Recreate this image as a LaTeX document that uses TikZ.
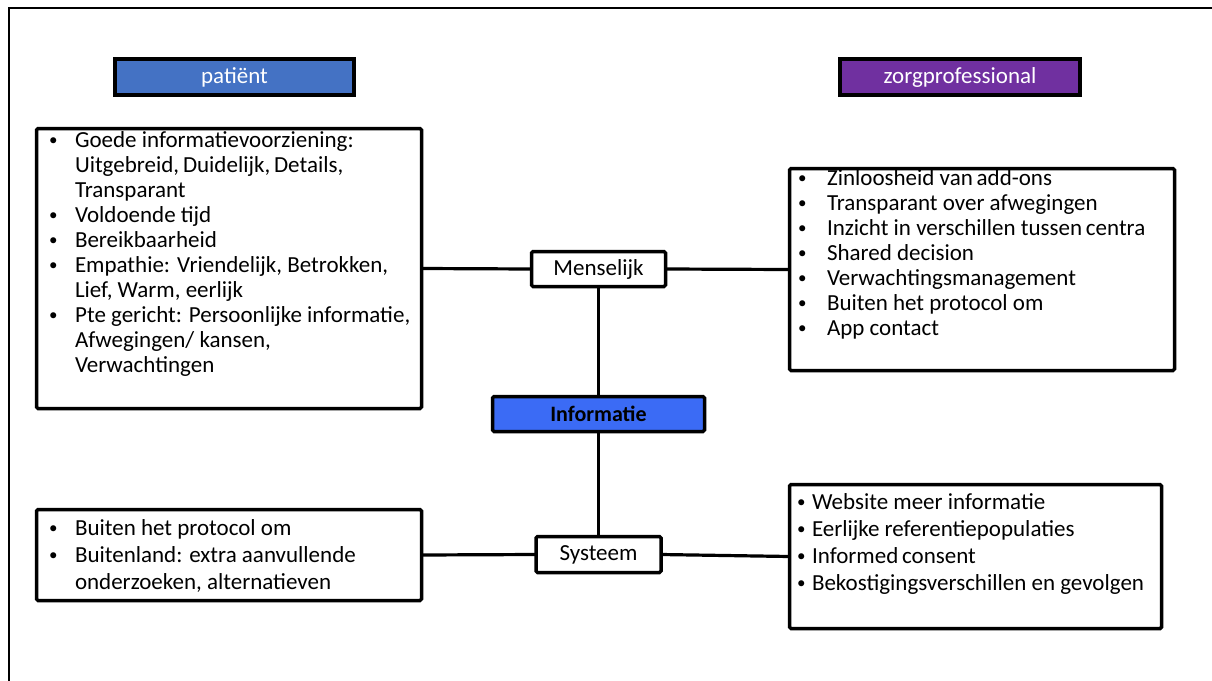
\documentclass[tikz,border=0pt]{standalone}
\usepackage{fontspec}
\setmainfont{Carlito}
\definecolor{patblue}{HTML}{4472C4}
\definecolor{zorgpurple}{HTML}{7030A0}
\definecolor{infoblue}{HTML}{3B6BF5}
% small bullet in a box of given width
\newcommand{\bl}[1]{\makebox[#1][l]{\raisebox{1.6pt}{\fontsize{17}{17}\selectfont\textbullet}}}
\begin{document}
\begin{tikzpicture}[x=1pt,y=-1pt,
  boxline/.style={draw, line width=3.5pt, rounded corners=1.5pt, inner sep=0pt, outer sep=0pt},
  listbox/.style={boxline, fill=white},
  header/.style={draw, line width=4pt, inner sep=0pt, outer sep=0pt, text=white,
    font=\fontsize{23}{27}\selectfont},
  hub/.style={boxline, fill=white, font=\fontsize{23}{27}\selectfont},
  listtext/.style={anchor=base west, inner sep=0pt, outer sep=0pt},
  conn/.style={line width=3.2pt}
]
\useasboundingbox (0,0) rectangle (1212,680);
% outer frame (top and left edges visible)
\draw[line width=2pt] (8.5,1400) -- (8.5,7.5) -- (2400,7.5);

% column headers
\node[header, fill=patblue, minimum width=239pt, minimum height=36pt] (pat) at (234.5,77) {patiënt};
\node[header, fill=zorgpurple, minimum width=240pt, minimum height=36pt] (zorg) at (960,77) {zorgprofessional};

% central hubs
\node[hub, minimum width=134pt, minimum height=35pt] (mens) at (598.5,269) {Menselijk};
\node[hub, fill=infoblue, minimum width=212pt, minimum height=35pt, font=\fontsize{22}{26}\selectfont\bfseries] (info) at (598.5,414) {Informatie};
\node[hub, minimum width=125pt, minimum height=36pt] (sys) at (598.5,554.5) {Systeem};

% list boxes
\node[listbox, minimum width=385pt, minimum height=280pt] (lt) at (229,268.5) {};
\node[listbox, minimum width=385pt, minimum height=202pt] (rt) at (982,269.5) {};
\node[listbox, minimum width=385pt, minimum height=91pt] (lb) at (229,555) {};
\node[listbox, minimum width=372pt, minimum height=144pt] (rb) at (975.5,556.5) {};

% connectors
\draw[conn] (lt.east) -- (mens.west);
\draw[conn] (mens.east) -- (rt.west);
\draw[conn] (mens.south) -- (info.north);
\draw[conn] (info.south) -- (sys.north);
\draw[conn] (lb.east) -- (sys.west);
\draw[conn] (sys.east) -- (rb.west);

% list contents
\node[listtext, font=\fontsize{23}{25}\selectfont] (ltt) at (49,147) {%
\begin{tabular}[t]{@{}l@{}l@{}}
\bl{26pt} & Goede informatievoorziening:\\
 & Uitgebreid,\,Duidelijk,\,Details,\\
 & Transparant\\
\bl{26pt} & Voldoende tijd\\
\bl{26pt} & Bereikbaarheid\\
\bl{26pt} & Empathie: Vriendelijk, Betrokken,\\
 & Lief, Warm, eerlijk\\
\bl{26pt} & Pte gericht: Persoonlijke informatie,\\
 & Afwegingen/ kansen,\\
 & Verwachtingen
\end{tabular}};

\node[listtext, font=\fontsize{23}{25}\selectfont] (rtt) at (798,185) {%
\begin{tabular}[t]{@{}l@{}l@{}}
\bl{29pt} & Zinloosheid van\,add-ons\\
\bl{29pt} & Transparant over afwegingen\\
\bl{29pt} & Inzicht in verschillen tussen\,centra\\
\bl{29pt} & Shared decision\\
\bl{29pt} & Verwachtingsmanagement\\
\bl{29pt} & Buiten het protocol om\\
\bl{29pt} & App contact
\end{tabular}};

\node[listtext, font=\fontsize{23}{27}\selectfont] (lbt) at (49,535) {%
\begin{tabular}[t]{@{}l@{}l@{}}
\bl{26pt} & Buiten het protocol om\\
\bl{26pt} & Buitenland: extra aanvullende\\
 & onderzoeken, alternatieven
\end{tabular}};

\node[listtext, font=\fontsize{23}{27}\selectfont] (rbt) at (797,509) {%
\begin{tabular}[t]{@{}l@{}l@{}}
\bl{15pt} & Website meer informatie\\
\bl{15pt} & Eerlijke referentiepopulaties\\
\bl{15pt} & Informed\,consent\\
\bl{15pt} & Bekostigingsverschillen en gevolgen
\end{tabular}};
\end{tikzpicture}
\end{document}
